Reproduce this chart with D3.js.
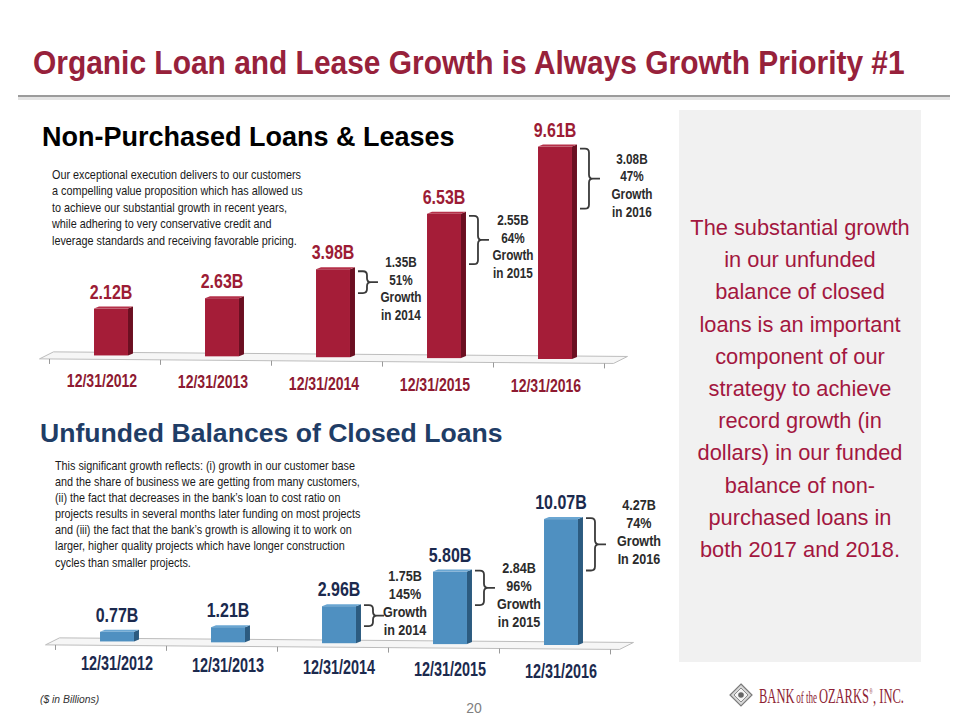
<!DOCTYPE html>
<html><head><meta charset="utf-8">
<script src="https://cdn.jsdelivr.net/npm/d3@7"></script>
<style>
html,body{margin:0;padding:0;background:#fff;}
svg{display:block;}
</style></head>
<body>
<script>
// ---------- DATA ----------
const categories = ["12/31/2012","12/31/2013","12/31/2014","12/31/2015","12/31/2016"];
const loanValues = [2.12, 2.63, 3.98, 6.53, 9.61];
const loanLabels = ["2.12B","2.63B","3.98B","6.53B","9.61B"];
const unfundedValues = [0.77, 1.21, 2.96, 5.80, 10.07];
const unfundedLabels = ["0.77B","1.21B","2.96B","5.80B","10.07B"];
const loanGrowthAmt = ["1.35B","2.55B","3.08B"];
const loanGrowthPct = ["51%","64%","47%"];
const loanGrowthYear = ["in 2014","in 2015","in 2016"];
const unfundedGrowthAmt = ["1.75B","2.84B","4.27B"];
const unfundedGrowthPct = ["145%","96%","74%"];
const unfundedGrowthYear = ["in 2014","in 2015","In 2016"];

const titleText = "Organic Loan and Lease Growth is Always Growth Priority #1";
const loanHeading = "Non-Purchased Loans & Leases";
const unfundedHeading = "Unfunded Balances of Closed Loans";
const loanNote = ["Our exceptional execution delivers to our customers",
 "a compelling value proposition which has allowed us",
 "to achieve our substantial growth in recent years,",
 "while adhering to very conservative credit and",
 "leverage standards and receiving favorable pricing."];
const unfundedNote = ["This significant growth reflects: (i) growth in our customer base",
 "and the share of business we are getting from many customers,",
 "(ii) the fact that decreases in the bank\u2019s loan to cost ratio on",
 "projects results in several months later funding on most projects",
 "and (iii) the fact that the bank\u2019s growth is allowing it to work on",
 "larger, higher quality projects which have longer construction",
 "cycles than smaller projects."];
const sideText = ["The substantial growth","in our unfunded","balance of closed",
 "loans is an important","component of our","strategy to achieve",
 "record growth (in","dollars) in our funded","balance of non-",
 "purchased loans in","both 2017 and 2018."];
const logoParts = ["BANK", "of the", "OZARKS", "\u00ae", ", INC."];

// ---------- SETUP ----------
const W = 960, H = 720;
const svg = d3.select("body").append("svg").attr("width", W).attr("height", H);
svg.append("rect").attr("width", W).attr("height", H).attr("fill", "#fff");

const SANS = "'Liberation Sans',Arial,sans-serif";
const NX = 0.82; // horizontal condensing for "narrow" text

// Title (condensed by a horizontal scale fitted to the slide width)
const titleG = svg.append("g");
const titleT = titleG.append("text").attr("x", 0).attr("y", 0)
  .attr("font-family", SANS).attr("font-weight", "bold").attr("font-size", 34)
  .attr("fill", "#97213b").text(titleText);
const tl = titleT.node().getComputedTextLength();
titleG.attr("transform", `translate(33,74) scale(${872 / tl},1)`);

svg.append("line").attr("x1", 18).attr("x2", 950).attr("y1", 98.5).attr("y2", 98.5)
  .attr("stroke", "#e4e4e4").attr("stroke-width", 3);
svg.append("line").attr("x1", 18).attr("x2", 950).attr("y1", 96).attr("y2", 96)
  .attr("stroke", "#7a7a7a").attr("stroke-width", 1.5);

// Right panel
svg.append("rect").attr("x", 679).attr("y", 110).attr("width", 242).attr("height", 552).attr("fill", "#f1f1f1");
svg.append("g").selectAll("text").data(sideText).join("text")
  .attr("x", 800).attr("y", (d, i) => 235 + i * 32.2)
  .attr("text-anchor", "middle").attr("font-family", SANS).attr("font-size", 21.8)
  .attr("fill", "#a3173f").text(d => d);

// ---------- chart builder ----------
function buildChart(cfg) {
  const g = svg.append("g");
  const x = d3.scaleBand().domain(categories).range(cfg.xRange).paddingInner(0.694).paddingOuter(0.347);
  const y = d3.scaleLinear().domain([0, 10]).range([0, cfg.pxPer10]);
  const bw = x.bandwidth();
  const base = px => cfg.base0 + (px - cfg.xRange[0]) * cfg.slope;
  const dx = 5, dy = 2;

  // floor
  const fl = cfg.xRange[0] - 16, fr = cfg.xRange[1] + 3;
  g.append("path")
    .attr("d", `M${fl},${base(fl) + 4} L${fl + 14},${base(fl) - 3} L${fr + 14},${base(fr) - 3} L${fr},${base(fr) + 4} Z`)
    .attr("fill", "#f6f6f6").attr("stroke", "#bdbdbd").attr("stroke-width", 1);
  const ticks = d3.range(categories.length + 1).map(i => cfg.xRange[0] - 6 + i * x.step());
  g.selectAll(".tk").data(ticks).join("line")
    .attr("x1", d => d).attr("x2", d => d)
    .attr("y1", d => base(d) + 4).attr("y2", d => base(d) + 9)
    .attr("stroke", "#999").attr("stroke-width", 1);

  const vals = cfg.values;
  const bars = g.selectAll(".bar").data(vals).join("g");
  bars.each(function (v, i) {
    const bx = x(categories[i]);
    const b = base(bx + bw / 2);
    const top = b - y(v);
    const s = d3.select(this);
    s.append("path")
      .attr("d", `M${bx + bw},${top} L${bx + bw + dx},${top - dy} L${bx + bw + dx},${b - dy} L${bx + bw},${b} Z`)
      .attr("fill", cfg.side);
    s.append("path")
      .attr("d", `M${bx},${top} L${bx + dx},${top - dy} L${bx + bw + dx},${top - dy} L${bx + bw},${top} Z`)
      .attr("fill", cfg.topc);
    s.append("rect").attr("x", bx).attr("y", top).attr("width", bw).attr("height", b - top)
      .attr("fill", cfg.front);
    s.append("text").attr("x", (bx + bw / 2) / NX).attr("y", top - cfg.labelGap)
      .attr("transform", `scale(${NX},1)`)
      .attr("text-anchor", "middle").attr("font-family", SANS).attr("font-weight", "bold")
      .attr("font-size", 19.5).attr("fill", cfg.labelColor).text(cfg.labels[i]);
  });

  // category labels
  const CX = 0.74;
  g.selectAll(".cat").data(categories).join("text")
    .attr("x", d => (x(d) + bw / 2 + cfg.catShift) / CX)
    .attr("y", (d, i) => cfg.catY + i * cfg.catStep)
    .attr("transform", `scale(${CX},1)`)
    .attr("text-anchor", "middle").attr("font-family", SANS).attr("font-weight", "bold")
    .attr("font-size", cfg.catSize).attr("fill", cfg.catColor).text(d => d);

  // growth brackets
  for (let k = 0; k < 3; k++) {
    const i = k + 2;
    const bx = x(categories[i]);
    const b = base(bx + bw / 2);
    const yTop = b - y(vals[i]) + cfg.brTop;
    const yBot = b - y(vals[i - 1]) + cfg.brBot;
    const x0 = bx + bw + dx + 3;
    const mid = (yTop + yBot) / 2;
    const r = 4, xv = x0 + 9;
    const p = `M${x0},${yTop} L${xv - r},${yTop} Q${xv},${yTop} ${xv},${yTop + r} L${xv},${mid - r} Q${xv},${mid} ${xv + r},${mid} L${xv + 11},${mid} M${xv + r},${mid} Q${xv},${mid} ${xv},${mid + r} L${xv},${yBot - r} Q${xv},${yBot} ${xv - r},${yBot} L${x0},${yBot}`;
    g.append("path").attr("d", p).attr("fill", "none").attr("stroke", "#3a3a3a").attr("stroke-width", 1.8);
    const lines = [cfg.gAmt[k], cfg.gPct[k], "Growth", cfg.gYear[k]];
    const cx = x0 + cfg.textDx[k];
    const y0 = mid + cfg.textDy + cfg.textNudge[k];
    g.append("g").selectAll("text").data(lines).join("text")
      .attr("x", cx / 0.84).attr("y", (d, j) => y0 + j * cfg.lineH)
      .attr("transform", "scale(0.84,1)")
      .attr("dy", "0.35em")
      .attr("text-anchor", "middle").attr("font-family", SANS).attr("font-weight", "bold")
      .attr("font-size", cfg.gSize).attr("fill", "#2b2b2b").text(d => d);
  }
}

// Top chart
svg.append("text").attr("x", 42).attr("y", 146).attr("font-family", SANS).attr("font-weight", "bold")
  .attr("font-size", 27).attr("fill", "#000").text(loanHeading);
svg.append("g").selectAll("text").data(loanNote).join("text")
  .attr("x", 52 / 0.88).attr("y", (d, i) => 179 + i * 16.5)
  .attr("transform", "scale(0.88,1)")
  .attr("font-family", SANS).attr("font-size", 12.3).attr("fill", "#1a1a1a").text(d => d);

buildChart({
  xRange: [55.5, 610.5], pxPer10: 221, base0: 355, slope: 0.008,
  values: loanValues, labels: loanLabels,
  front: "#a51d38", side: "#6b0f21", topc: "#b53049", labelColor: "#9c1c35", labelGap: 10,
  catY: 387, catStep: 1.3, catSize: 19, catColor: "#8e1a31", catShift: -9,
  brTop: 2, brBot: -6, gAmt: loanGrowthAmt, gPct: loanGrowthPct, gYear: loanGrowthYear,
  textDx: [43, 44, 52], textDy: -20, textNudge: [0, 0, 0], lineH: 17.7, gSize: 14
});

// Bottom chart
svg.append("text").attr("x", 40).attr("y", 442).attr("font-family", SANS).attr("font-weight", "bold")
  .attr("font-size", 26.6).attr("fill", "#1f3d66").text(unfundedHeading);
svg.append("g").selectAll("text").data(unfundedNote).join("text")
  .attr("x", 55 / 0.88).attr("y", (d, i) => 470 + i * 16.1)
  .attr("transform", "scale(0.88,1)")
  .attr("font-family", SANS).attr("font-size", 12.3).attr("fill", "#1a1a1a").text(d => d);

buildChart({
  xRange: [61.5, 616.5], pxPer10: 125, base0: 641, slope: 0.008,
  values: unfundedValues, labels: unfundedLabels,
  front: "#4f90c1", side: "#2c5b80", topc: "#6aa6d2", labelColor: "#1b2a4e", labelGap: 10,
  catY: 670, catStep: 2, catSize: 19.5, catColor: "#1b2a4e", catShift: 0,
  brTop: -1, brBot: -2, gAmt: unfundedGrowthAmt, gPct: unfundedGrowthPct, gYear: unfundedGrowthYear,
  textDx: [41, 44, 53], textDy: -40, textNudge: [0, 20, 0], lineH: 18, gSize: 15
});

// Footer
svg.append("text").attr("x", 40 / 0.9).attr("y", 703).attr("transform", "scale(0.9,1)")
  .attr("font-family", SANS).attr("font-style", "italic")
  .attr("font-size", 11.5).attr("fill", "#333").text("($ in Billions)");
svg.append("text").attr("x", 474).attr("y", 713).attr("text-anchor", "middle").attr("font-family", SANS)
  .attr("font-size", 14).attr("fill", "#808080").text("20");

// Logo
const logo = svg.append("g");
const lc = [741, 695];
logo.append("polygon").attr("points", `${lc[0]},${lc[1]-11} ${lc[0]+11},${lc[1]} ${lc[0]},${lc[1]+11} ${lc[0]-11},${lc[1]}`)
  .attr("fill", "#d8d8d8").attr("stroke", "#7a7a7a").attr("stroke-width", 1.2);
logo.append("polygon").attr("points", `${lc[0]},${lc[1]-7} ${lc[0]+7},${lc[1]} ${lc[0]},${lc[1]+7} ${lc[0]-7},${lc[1]}`)
  .attr("fill", "#f4f4f4").attr("stroke", "#8a8a8a").attr("stroke-width", 1);
logo.append("circle").attr("cx", lc[0]).attr("cy", lc[1]).attr("r", 2.8).attr("fill", "#666");
const SERIF = "'Liberation Serif','Times New Roman',serif";
const partSize = [22, 16, 22, 8, 22];
const partDy = [0, 0, 0, -9, 0];
const logoG = logo.append("g");
const pieces = logoG.selectAll("text").data(logoParts).join("text")
  .attr("font-family", SERIF).attr("font-size", (d, i) => partSize[i])
  .attr("fill", "#8e1f35").attr("y", (d, i) => 703 + partDy[i]).text(d => d);
let cursor = 0;
pieces.each(function (d, i) {
  const gap = (i === 1 || i === 2) ? 3 : 0.5;
  cursor += (i > 0 ? gap : 0);
  d3.select(this).attr("x", cursor);
  cursor += this.getComputedTextLength();
});
const sxLogo = 145 / cursor;
logoG.attr("transform", `translate(759,0) scale(${sxLogo},1)`);
</script>
</body></html>
